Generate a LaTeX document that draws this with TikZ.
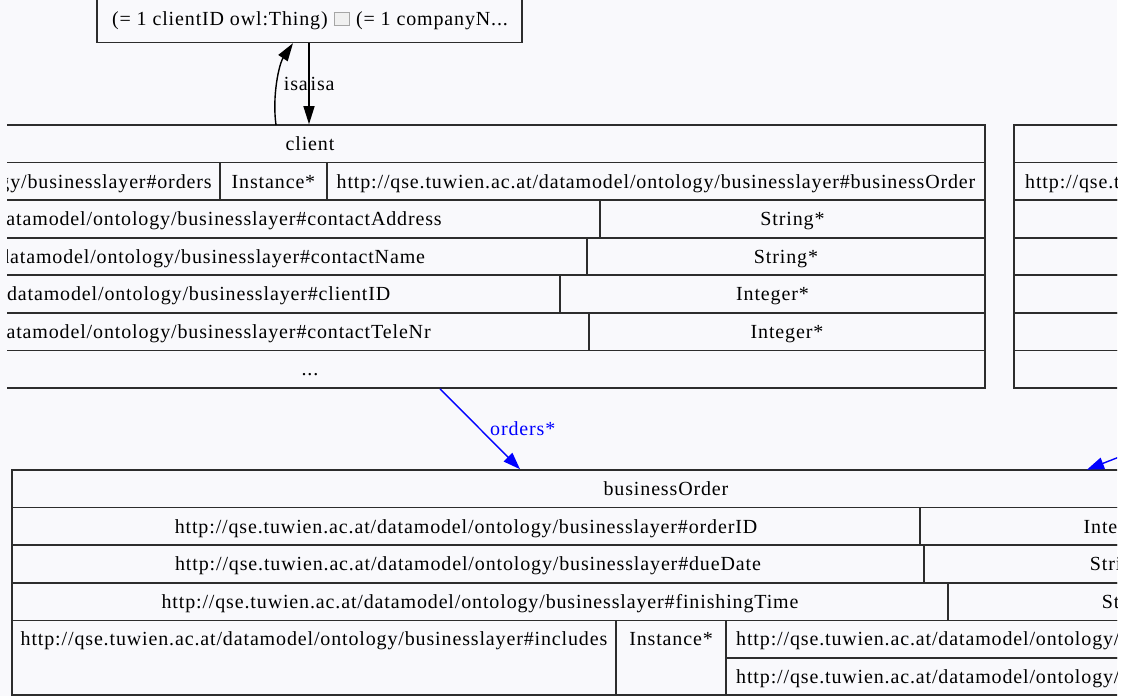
\documentclass[tikz,border=0pt]{standalone}
\usepackage{fontspec}
\setmainfont[LetterSpace=4.3]{Liberation Serif}
\usetikzlibrary{arrows.meta}

\definecolor{canvas}{RGB}{249,249,252}
\definecolor{rulegray}{RGB}{45,45,45}
\definecolor{linkblue}{RGB}{0,0,255}

\tikzset{
  cellrule/.style={draw=rulegray, line width=1.6pt},
  celltext/.style={inner sep=0pt, text height=13.4pt, text depth=0pt,
    font=\fontsize{20}{24}\selectfont},
  isaarrow/.style={draw=black, line width=1.4pt,
    -{Triangle[length=18pt,width=11pt]}},
  linkarrow/.style={draw=linkblue, line width=1.4pt,
    -{Triangle[length=17pt,width=12pt]}},
  linklabel/.style={celltext, text=linkblue},
}

% one table cell: x1 y1 x2 y2 name text
\newcommand\tcell[6]{%
  \draw[cellrule] (#1,#2) rectangle (#3,#4);
  \node[celltext] (#5) at ({(#1+#3)/2},{(#2+#4)/2}) {#6};}

% placeholder square for a glyph the label font could not show
\newcommand\glyphbox{{\fboxsep=0pt\fboxrule=0.8pt%
  \fcolorbox{gray!70}{gray!12}{\rule{0pt}{12pt}\rule{15pt}{0pt}}}}

\begin{document}
\begin{tikzpicture}[x=1pt,y=-1pt]
\useasboundingbox (0,0) rectangle (1123,696);
\fill[white] (0,0) rectangle (1123,696);
\fill[canvas] (0,0) rectangle (1117,696);

\begin{scope}
\clip (7,-10) rectangle (1117,700);

% --- restriction class (top) ---
\draw[cellrule] (97,-60) rectangle (522,42.5);
\node[celltext] (restriction) at (310,18.4)
  {(= 1 clientID owl:Thing) \glyphbox{} (= 1 companyN...};

% --- client ---
\tcell{-365}{125}{985}{162.6}{clientHead}{client}
\tcell{-365}{162.6}{220}{200.1}{cOrdersP}{http://qse.tuwien.ac.at/datamodel/ontology/businesslayer\#orders}
\tcell{220}{162.6}{327}{200.1}{cOrdersT}{Instance*}
\tcell{327}{162.6}{985}{200.1}{cOrdersR}{http://qse.tuwien.ac.at/datamodel/ontology/businesslayer\#businessOrder}
\tcell{-365}{200.1}{600}{237.7}{cAddrP}{http://qse.tuwien.ac.at/datamodel/ontology/businesslayer\#contactAddress}
\tcell{600}{200.1}{985}{237.7}{cAddrT}{String*}
\tcell{-365}{237.7}{587}{275.2}{cNameP}{http://qse.tuwien.ac.at/datamodel/ontology/businesslayer\#contactName}
\tcell{587}{237.7}{985}{275.2}{cNameT}{String*}
\tcell{-365}{275.2}{560}{312.8}{cIdP}{http://qse.tuwien.ac.at/datamodel/ontology/businesslayer\#clientID}
\tcell{560}{275.2}{985}{312.8}{cIdT}{Integer*}
\tcell{-365}{312.8}{589}{350.4}{cTelP}{http://qse.tuwien.ac.at/datamodel/ontology/businesslayer\#contactTeleNr}
\tcell{589}{312.8}{985}{350.4}{cTelT}{Integer*}
\tcell{-365}{350.4}{985}{388}{cMore}{...}

% --- neighbouring class on the right ---
\tcell{1014}{125}{1500}{162.6}{nHead}{}
\draw[cellrule] (1014,162.6) rectangle (1500,200.1);
\node[celltext, anchor=west] (nRow) at (1025,181.35)
  {http://qse.tuwien.ac.at/datamodel/ontology/businesslayer};
\tcell{1014}{200.1}{1500}{237.7}{nRowB}{}
\tcell{1014}{237.7}{1500}{275.2}{nRowC}{}
\tcell{1014}{275.2}{1500}{312.8}{nRowD}{}
\tcell{1014}{312.8}{1500}{350.4}{nRowE}{}
\tcell{1014}{350.4}{1500}{388}{nRowF}{}

% --- businessOrder ---
\tcell{12}{470}{1320}{507.6}{boHead}{businessOrder}
\tcell{12}{507.6}{920}{545.2}{boIdP}{http://qse.tuwien.ac.at/datamodel/ontology/businesslayer\#orderID}
\tcell{920}{507.6}{1320}{545.2}{boIdT}{Integer*}
\tcell{12}{545.2}{924}{582.8}{boDueP}{http://qse.tuwien.ac.at/datamodel/ontology/businesslayer\#dueDate}
\tcell{924}{545.2}{1320}{582.8}{boDueT}{String*}
\tcell{12}{582.8}{948}{620.4}{boFinP}{http://qse.tuwien.ac.at/datamodel/ontology/businesslayer\#finishingTime}
\tcell{948}{582.8}{1320}{620.4}{boFinT}{String*}
\draw[cellrule] (12,620.4) rectangle (616,695);
\node[celltext] (boInclP) at (314,639.2)
  {http://qse.tuwien.ac.at/datamodel/ontology/businesslayer\#includes};
\draw[cellrule] (616,620.4) rectangle (726,695);
\node[celltext] (boInclT) at (671,639.2) {Instance*};
\draw[cellrule] (726,620.4) rectangle (1320,658);
\node[celltext, anchor=west] (boInclA) at (736,639.2)
  {http://qse.tuwien.ac.at/datamodel/ontology/businesslayer};
\draw[cellrule] (726,658) rectangle (1320,695);
\node[celltext, anchor=west] (boInclB) at (736,676.5)
  {http://qse.tuwien.ac.at/datamodel/ontology/businesslayer};

% --- connector end points ---
\coordinate (clientIsaOut) at (276,125);
\coordinate (restrIsaIn) at (293,43.2);
\coordinate (restrIsaOut) at (309,43.2);
\coordinate (clientIsaIn) at (309,124.2);
\coordinate (clientOrdersOut) at (440,388.8);
\coordinate (orderTopIn) at (520,469.2);
\coordinate (orderTopInRight) at (1087,469.6);
\coordinate (rightSource) at (1160,441);

% --- isa links ---
\draw[isaarrow] (clientIsaOut) .. controls (272,96) and (279,64) .. (restrIsaIn);
\draw[isaarrow] (restrIsaOut) -- (clientIsaIn);
\node[celltext, anchor=east] (isaUp) at (308,83.4) {isa};
\node[celltext, anchor=west] (isaDown) at (310.5,83.4) {isa};

% --- object property links ---
\draw[linkarrow] (clientOrdersOut) -- (orderTopIn);
\node[linklabel, anchor=west] (ordersLabel) at (490,428.4) {orders*};
\draw[linkarrow] (rightSource) -- (orderTopInRight);
\end{scope}
\end{tikzpicture}
\end{document}
